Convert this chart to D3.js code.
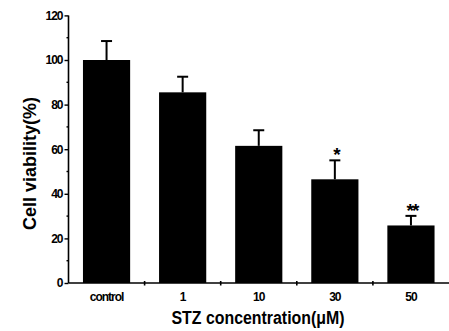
<!DOCTYPE html>
<html>
<head>
<meta charset="utf-8">
<script src="https://cdn.jsdelivr.net/npm/d3@7"></script>
<style>
  html, body { margin: 0; padding: 0; background: #fff; }
  svg { display: block; }
  text { font-family: "Liberation Sans", Arial, sans-serif; fill: #000; }
</style>
</head>
<body>
<svg id="chart" width="449" height="331"></svg>
<script>
const categories = ["control", "1", "10", "30", "50"];
const viability = [100, 85.5, 61.5, 46.5, 25.8];
const errorUp = [8.5, 7, 7, 8.5, 4.3];
const significance = ["", "", "", "*", "**"];
const yTicks = [0, 20, 40, 60, 80, 100, 120];
const yMinorTicks = [10, 30, 50, 70, 90, 110];
const yTitle = "Cell viability(%)";
const xTitle = "STZ concentration(\u03bcM)";

(function () {
const svg = d3.select("#chart");
const mLeft = 68.5, mRight = 449, mTop = 15.4, mBottom = 283;

const x = d3.scaleBand().domain(categories).range([mLeft, mRight])
  .paddingInner(0.38).paddingOuter(0.19);
const y = d3.scaleLinear().domain([0, 120]).range([mBottom, mTop]);

// bars
svg.append("g").selectAll("rect").data(categories).join("rect")
  .attr("x", d => x(d))
  .attr("y", (d, i) => y(viability[i]))
  .attr("width", x.bandwidth())
  .attr("height", (d, i) => y(0) - y(viability[i]))
  .attr("fill", "#000");

// error bars (upper only)
const eg = svg.append("g").attr("stroke", "#000").attr("stroke-width", 2);
categories.forEach((c, i) => {
  const cx = x(c) + x.bandwidth() / 2;
  const yt = y(viability[i] + errorUp[i]);
  eg.append("line").attr("x1", cx).attr("x2", cx)
    .attr("y1", y(viability[i])).attr("y2", yt);
  eg.append("line").attr("x1", cx - 5.5).attr("x2", cx + 5.5)
    .attr("y1", yt).attr("y2", yt);
});

// significance marks
svg.append("g").selectAll("text").data(categories).join("text")
  .attr("x", d => x(d) + x.bandwidth() / 2 + 1)
  .attr("y", (d, i) => y(viability[i] + errorUp[i]) + 1)
  .attr("text-anchor", "middle")
  .attr("font-size", 19).attr("font-weight", "bold")
  .attr("letter-spacing", -2)
  .text((d, i) => significance[i]);

// y axis
const yAxis = d3.axisLeft(y).tickValues(yTicks).tickSize(4).tickPadding(2)
  .tickFormat(d3.format("d"));
const ya = svg.append("g").attr("transform", `translate(${mLeft},0)`).call(yAxis);
ya.select(".domain").attr("stroke-width", 1.6).attr("d", `M0,${y(120)}V${y(0)}`);
ya.selectAll(".tick line").attr("stroke-width", 1.4);
ya.selectAll(".tick text").attr("font-size", 12).attr("font-weight", "bold")
  .attr("letter-spacing", -1).style("font-family", "'Liberation Sans', Arial, sans-serif");
ya.selectAll(".minor").data(yMinorTicks).join("line")
  .attr("class", "minor")
  .attr("x1", -2).attr("x2", 0)
  .attr("y1", d => y(d)).attr("y2", d => y(d))
  .attr("stroke", "#000").attr("stroke-width", 1.4);

// x axis
const xAxis = d3.axisBottom(x).tickSize(0).tickPadding(9);
const xa = svg.append("g").attr("transform", `translate(0,${mBottom})`).call(xAxis);
xa.select(".domain").attr("stroke-width", 1.6).attr("d", `M${mLeft},0H${mRight}`);
xa.selectAll(".tick text").attr("font-size", 12).attr("font-weight", "bold")
  .attr("letter-spacing", -1).style("font-family", "'Liberation Sans', Arial, sans-serif");
// separators between categories
const seps = categories.slice(1).map(c => x(c) - x.step() * x.paddingInner() / 2);
xa.selectAll(".sep").data(seps).join("line")
  .attr("class", "sep")
  .attr("x1", d => d).attr("x2", d => d)
  .attr("y1", -2).attr("y2", 2.5)
  .attr("stroke", "#000").attr("stroke-width", 1.6);

// titles
svg.append("text")
  .attr("transform", "translate(36,163.5) rotate(-90)")
  .attr("text-anchor", "middle")
  .attr("font-size", 18).attr("font-weight", "bold")
  .attr("textLength", 133).attr("lengthAdjust", "spacingAndGlyphs")
  .text(yTitle);

svg.append("text")
  .attr("x", 258).attr("y", 324)
  .attr("text-anchor", "middle")
  .attr("font-size", 18).attr("font-weight", "bold")
  .attr("textLength", 173).attr("lengthAdjust", "spacingAndGlyphs")
  .text(xTitle);
})();
</script>
</body>
</html>
